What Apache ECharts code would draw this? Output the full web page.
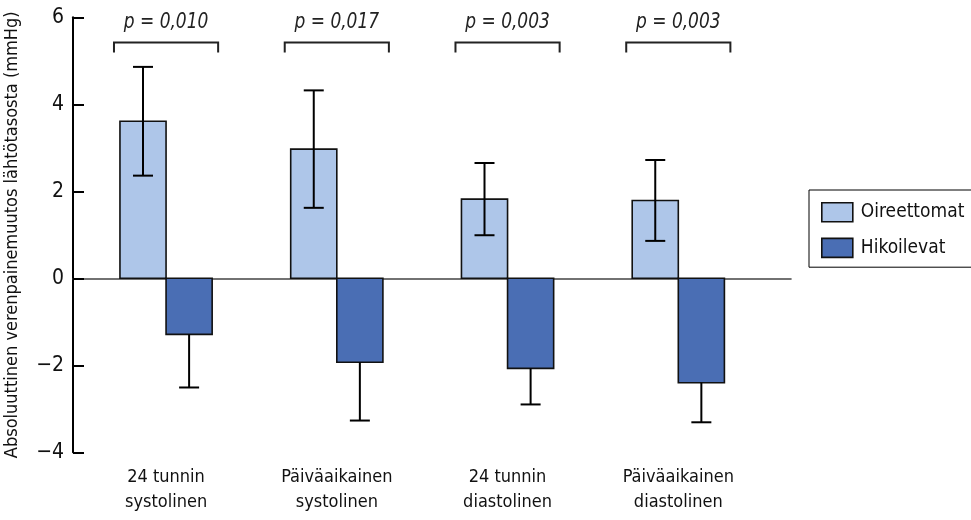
<!DOCTYPE html>
<html>
<head>
<meta charset="utf-8">
<script src="https://cdn.jsdelivr.net/npm/echarts@6/dist/echarts.min.js"></script>
<style>html,body{margin:0;padding:0;background:#fff}#c{width:971px;height:520px}</style>
</head>
<body>
<div id="c"></div>
<script>
const categories = ['24 tunnin\nsystolinen', 'Päiväaikainen\nsystolinen', '24 tunnin\ndiastolinen', 'Päiväaikainen\ndiastolinen'];
const oireettomat = [3.61, 2.97, 1.82, 1.79];
const oireettomatErr = [1.25, 1.35, 0.83, 0.93];
const hikoilevat = [-1.29, -1.93, -2.07, -2.40];
const hikoilevatErr = [1.22, 1.34, 0.83, 0.91];
const pValues = ['p = 0,010', 'p = 0,017', 'p = 0,003', 'p = 0,003'];
const seriesNames = ['Oireettomat', 'Hikoilevat'];
const yTicks = [-4, -2, 0, 2, 4, 6];
const yTitle = 'Absoluuttinen verenpainemuutos lähtötasosta (mmHg)';

const FONT = '"Liberation Sans Narrow", "DejaVu Sans Condensed", "Roboto Condensed", sans-serif';
const LIGHT = '#aec6e9';
const DARK = '#4a6eb4';
const BAR_W = 0.27;      // bar width in category units
const CAP_PX = 10;       // half cap width in px
const BRACKET_HALF = 0.305;
const BRACKET_Y = 5.42;
const BRACKET_LEG = 5.19;
const P_TEXT_Y = 5.88;

function barRenderer(side, inward) {
  return function (params, api) {
    const x = api.value(0), m = api.value(1), e = api.value(2);
    const x0 = side < 0 ? x - BAR_W : x;
    const a = api.coord([x0, 0]);
    const b = api.coord([x0 + BAR_W, m]);
    const cx = api.coord([x0 + BAR_W / 2, 0])[0];
    const sgn = m >= 0 ? 1 : -1;
    const outer = api.coord([0, m + sgn * e])[1];
    const inner = inward ? api.coord([0, m - sgn * e])[1] : b[1];
    const children = [{
      type: 'rect',
      shape: { x: a[0], y: Math.min(a[1], b[1]), width: b[0] - a[0], height: Math.abs(b[1] - a[1]) },
      style: { fill: api.visual('color'), stroke: '#111', lineWidth: 1.6 }
    }, {
      type: 'line', shape: { x1: cx, y1: inner, x2: cx, y2: outer },
      style: { stroke: '#000', lineWidth: 2 }
    }, {
      type: 'line', shape: { x1: cx - CAP_PX, y1: outer, x2: cx + CAP_PX, y2: outer },
      style: { stroke: '#000', lineWidth: 2 }
    }];
    if (inward) {
      children.push({
        type: 'line', shape: { x1: cx - CAP_PX, y1: inner, x2: cx + CAP_PX, y2: inner },
        style: { stroke: '#000', lineWidth: 2 }
      });
    }
    return { type: 'group', children: children };
  };
}

function bracketRenderer(params, api) {
  const x = api.value(0);
  const l = api.coord([x - BRACKET_HALF, BRACKET_Y]);
  const r = api.coord([x + BRACKET_HALF, BRACKET_Y]);
  const legY = api.coord([x, BRACKET_LEG])[1];
  const t = api.coord([x, P_TEXT_Y]);
  return {
    type: 'group',
    children: [{
      type: 'polyline',
      shape: { points: [[l[0], legY], [l[0], l[1]], [r[0], r[1]], [r[0], legY]] },
      style: { stroke: '#222', lineWidth: 2, fill: null }
    }, {
      type: 'text',
      x: t[0], y: t[1], scaleX: 0.86,
      style: {
        text: pValues[params.dataIndex], x: 0, y: 0,
        align: 'center', verticalAlign: 'middle',
        font: 'italic 22px ' + FONT, fill: '#222'
      }
    }]
  };
}

const chart = echarts.init(document.getElementById('c'), null, { renderer: 'canvas' });
chart.setOption({
  animation: false,
  backgroundColor: '#fff',
  grid: { left: 73, right: 180, top: 17.3, bottom: 67.7, containLabel: false, outerBoundsMode: 'none' },
  xAxis: [{
    type: 'value', min: -0.545, max: 3.66, position: 'bottom',
    axisLine: { show: false, onZero: false }, axisTick: { show: false }, splitLine: { show: false },
    axisLabel: {
      customValues: [0, 1, 2, 3],
      formatter: v => categories[Math.round(v)] || '',
      fontFamily: FONT, fontSize: 18, color: '#111', lineHeight: 25, margin: 13
    }
  }, {
    type: 'value', min: -0.545, max: 3.66, position: 'top',
    axisLine: { show: true, onZero: true, lineStyle: { color: '#444', width: 1.6 } },
    axisTick: { show: false }, axisLabel: { show: false }, splitLine: { show: false }
  }],
  yAxis: {
    type: 'value', min: yTicks[0], max: yTicks[yTicks.length - 1], interval: 2,
    axisLine: { show: true, onZero: false, lineStyle: { color: '#000', width: 2 } },
    axisTick: { show: true, inside: true, length: 11, lineStyle: { color: '#000', width: 2 } },
    splitLine: { show: false },
    axisLabel: {
      formatter: v => v < 0 ? '\u2212' + Math.abs(v) : String(v),
      fontFamily: FONT, fontSize: 21, color: '#111', margin: 9
    },
    name: yTitle, nameLocation: 'middle', nameGap: 52, nameRotate: 90,
    nameTextStyle: { fontFamily: FONT, fontSize: 18, color: '#111' }
  },
  legend: {
    data: seriesNames, orient: 'vertical', left: 809, top: 190,
    borderColor: '#000', borderWidth: 1, padding: [12, 12, 9, 12],
    itemWidth: 31, itemHeight: 19, itemGap: 15, icon: 'rect',
    itemStyle: { borderColor: '#111', borderWidth: 1.6 },
    textStyle: { fontFamily: FONT, fontSize: 19, color: '#111', padding: [0, 0, 0, 3] }
  },
  series: [{
    name: seriesNames[0], type: 'custom', xAxisIndex: 0, itemStyle: { color: LIGHT },
    renderItem: barRenderer(-1, true),
    data: oireettomat.map((v, i) => [i, v, oireettomatErr[i]])
  }, {
    name: seriesNames[1], type: 'custom', xAxisIndex: 0, itemStyle: { color: DARK },
    renderItem: barRenderer(1, false),
    data: hikoilevat.map((v, i) => [i, v, hikoilevatErr[i]])
  }, {
    name: 'p', type: 'custom', xAxisIndex: 0, silent: true,
    renderItem: bracketRenderer,
    data: pValues.map((p, i) => [i, BRACKET_Y])
  }]
});
</script>
</body>
</html>
